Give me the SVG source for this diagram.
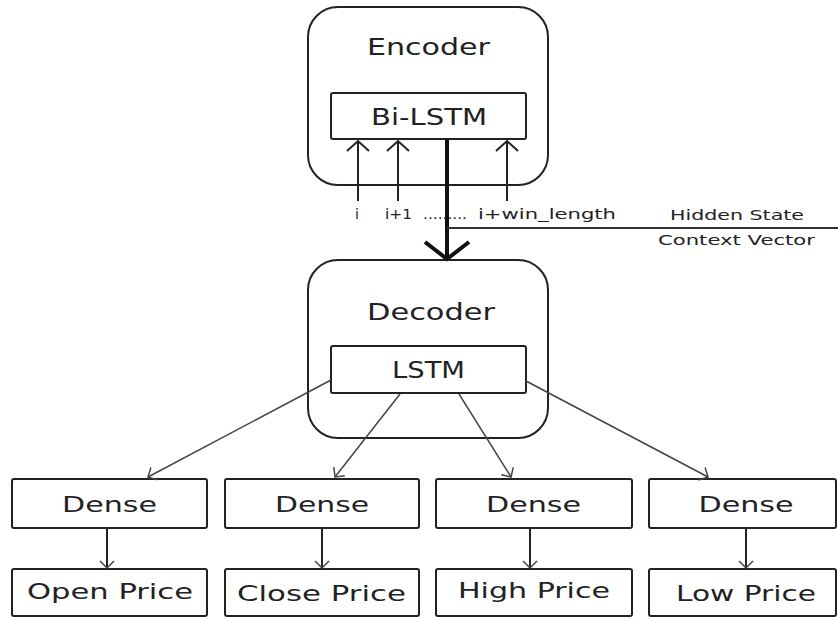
<svg xmlns="http://www.w3.org/2000/svg" width="838" height="618" viewBox="0 0 838 618">
<defs>
<style>
.big{fill:none;stroke:#222;stroke-width:2}
.box{fill:#fff;stroke:#222;stroke-width:2}
.t{font-family:"DejaVu Sans","Liberation Sans",sans-serif;fill:#222;text-anchor:middle}
.h{font-size:23px}
.m{font-size:21px}
.s{font-size:14px}
.thin{fill:none;stroke:#444;stroke-width:1.5}
.in{fill:none;stroke:#222;stroke-width:2}
</style>
<marker id="ah" markerUnits="userSpaceOnUse" viewBox="-12 -12 24 24" refX="0" refY="0" markerWidth="24" markerHeight="24" orient="auto">
<path d="M-7,-7 L0,0 L-7,7" fill="none" stroke="#444" stroke-width="1.5"/>
</marker>
<marker id="ahIn" markerUnits="userSpaceOnUse" viewBox="-14 -14 28 28" refX="0" refY="0" markerWidth="28" markerHeight="28" orient="auto">
<path d="M-10,-11 L0,0 L-10,11" fill="none" stroke="#222" stroke-width="2"/>
</marker>
</defs>
<rect width="838" height="618" fill="#fff"/>

<g id="encoder">
<rect class="big" x="308" y="7" width="240" height="178" rx="30"/>
<text class="t h" x="428.5" y="55" textLength="123" lengthAdjust="spacingAndGlyphs">Encoder</text>
</g>
<g id="bilstm">
<rect class="box" x="331" y="93" width="195" height="46" rx="2"/>
<text class="t h" x="429" y="125" textLength="116" lengthAdjust="spacingAndGlyphs">Bi-LSTM</text>
</g>
<g id="decoder">
<rect class="big" x="308" y="260" width="240" height="178" rx="30"/>
<text class="t h" x="431" y="320" textLength="128" lengthAdjust="spacingAndGlyphs">Decoder</text>
</g>
<g id="lstm">
<rect class="box" x="331" y="346" width="195" height="47" rx="2"/>
<text class="t h" x="428.5" y="378" textLength="73" lengthAdjust="spacingAndGlyphs">LSTM</text>
</g>

<g id="dense1">
<rect class="box" x="12" y="479" width="195" height="49" rx="2"/>
<text class="t m" x="109.5" y="512" textLength="95" lengthAdjust="spacingAndGlyphs">Dense</text>
</g>
<g id="dense2">
<rect class="box" x="225" y="479" width="194" height="49" rx="2"/>
<text class="t m" x="322" y="512" textLength="94" lengthAdjust="spacingAndGlyphs">Dense</text>
</g>
<g id="dense3">
<rect class="box" x="436" y="479" width="196" height="49" rx="2"/>
<text class="t m" x="533.5" y="512" textLength="95" lengthAdjust="spacingAndGlyphs">Dense</text>
</g>
<g id="dense4">
<rect class="box" x="649" y="479" width="187" height="49" rx="2"/>
<text class="t m" x="746" y="512" textLength="95" lengthAdjust="spacingAndGlyphs">Dense</text>
</g>

<g id="open">
<rect class="box" x="12" y="569" width="195" height="47" rx="2"/>
<text class="t m" x="110" y="599" textLength="166" lengthAdjust="spacingAndGlyphs">Open Price</text>
</g>
<g id="close">
<rect class="box" x="225" y="569" width="194" height="47" rx="2"/>
<text class="t m" x="321.5" y="601" textLength="169" lengthAdjust="spacingAndGlyphs">Close Price</text>
</g>
<g id="high">
<rect class="box" x="436" y="569" width="196" height="47" rx="2"/>
<text class="t m" x="534" y="598" textLength="152" lengthAdjust="spacingAndGlyphs">High Price</text>
</g>
<g id="low">
<rect class="box" x="649" y="569" width="187" height="47" rx="2"/>
<text class="t m" x="746" y="601" textLength="140" lengthAdjust="spacingAndGlyphs">Low Price</text>
</g>

<g id="labels">
<text class="t s" x="357" y="219">i</text>
<text class="t s" x="398.5" y="219" textLength="27" lengthAdjust="spacingAndGlyphs">i+1</text>
<text class="t s" x="445" y="219" textLength="44" lengthAdjust="spacingAndGlyphs">.........</text>
<text class="t s" x="547" y="219" textLength="138" lengthAdjust="spacingAndGlyphs">i+win_length</text>
<text class="t s" x="737" y="220" textLength="134" lengthAdjust="spacingAndGlyphs">Hidden State</text>
<text class="t s" x="736.5" y="245" textLength="157" lengthAdjust="spacingAndGlyphs">Context Vector</text>
</g>

<g id="connectors">
<line class="in" x1="358" y1="201" x2="358" y2="141" marker-end="url(#ahIn)"/>
<line class="in" x1="398" y1="201" x2="398" y2="141" marker-end="url(#ahIn)"/>
<line class="in" x1="507" y1="201" x2="507" y2="141" marker-end="url(#ahIn)"/>
<line x1="447" y1="139" x2="447" y2="258" stroke="#111" stroke-width="4"/>
<path d="M425,242 L447,259 L469,242" fill="none" stroke="#111" stroke-width="4"/>
<line x1="447" y1="228" x2="838" y2="228" stroke="#333" stroke-width="2"/>
<line class="thin" x1="331" y1="380" x2="148" y2="477" marker-end="url(#ah)"/>
<line class="thin" x1="400" y1="394" x2="335" y2="477" marker-end="url(#ah)"/>
<line class="thin" x1="459" y1="394" x2="511" y2="477" marker-end="url(#ah)"/>
<line class="thin" x1="526" y1="381" x2="708" y2="477" marker-end="url(#ah)"/>
<line class="in" x1="107" y1="528" x2="107" y2="568" marker-end="url(#ah)"/>
<line class="in" x1="322" y1="528" x2="322" y2="568" marker-end="url(#ah)"/>
<line class="in" x1="530" y1="528" x2="530" y2="568" marker-end="url(#ah)"/>
<line class="in" x1="746" y1="528" x2="746" y2="568" marker-end="url(#ah)"/>
</g>
</svg>
